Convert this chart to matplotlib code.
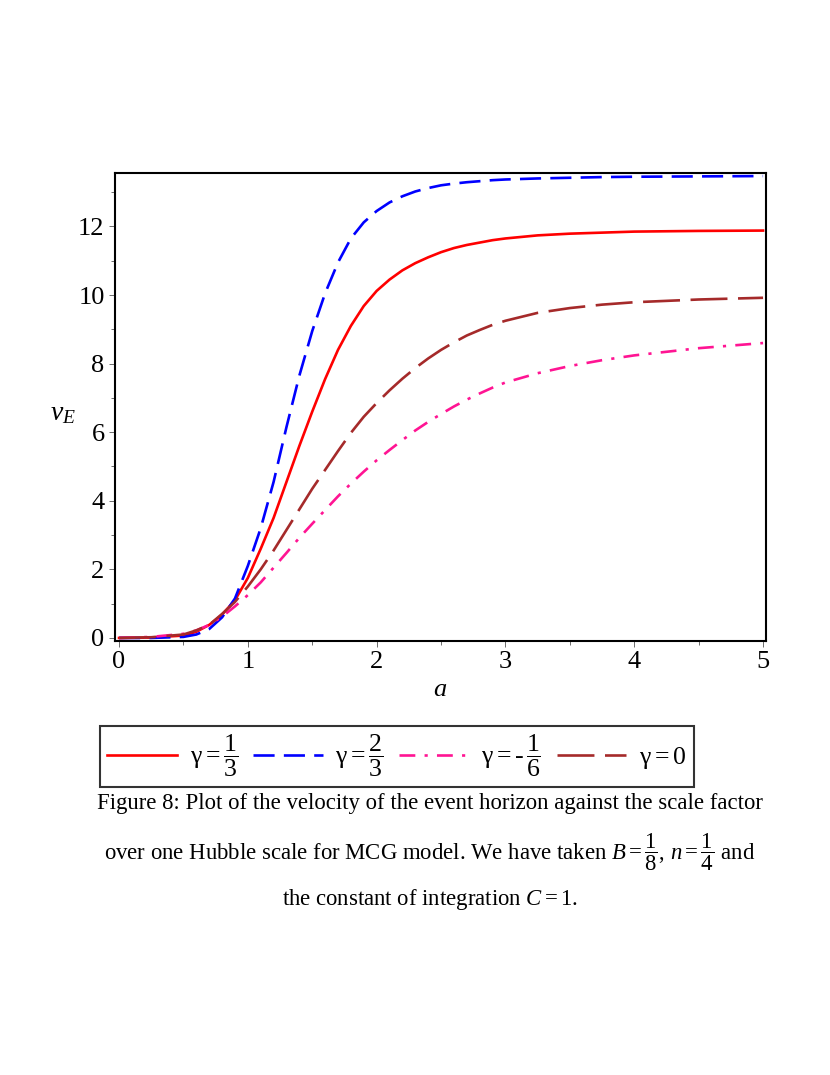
import numpy as np
import matplotlib
matplotlib.use("Agg")
import matplotlib.pyplot as plt

plt.rcParams['font.family'] = ['Liberation Serif', 'DejaVu Serif']
plt.rcParams['mathtext.fontset'] = 'custom'
plt.rcParams['mathtext.rm'] = 'Liberation Serif'
plt.rcParams['mathtext.it'] = 'Liberation Serif:italic'

# values
a = [0, 0.25, 0.5, 0.6, 0.7, 0.8, 0.9, 1.0, 1.1, 1.2, 1.3, 1.4, 1.5, 1.6, 1.7,
     1.8, 1.9, 2.0, 2.1, 2.2, 2.3, 2.4, 2.5, 2.6, 2.7, 2.8, 2.9, 3.0,
     3.25, 3.5, 3.75, 4.0, 4.5, 5.0]
v_third = [0, 0.01, 0.07, 0.18, 0.38, 0.68, 1.1, 1.75, 2.6, 3.5, 4.55, 5.6, 6.6, 7.55, 8.4,
           9.1, 9.68, 10.12, 10.45, 10.72, 10.93, 11.1, 11.25, 11.37, 11.46, 11.53, 11.6, 11.65,
           11.74, 11.79, 11.82, 11.85, 11.87, 11.88]
v_two_third = [0, 0.0, 0.03, 0.1, 0.26, 0.6, 1.15, 2.1, 3.2, 4.55, 6.15, 7.65, 8.95, 10.05, 10.95,
               11.65, 12.12, 12.45, 12.7, 12.88, 13.02, 13.12, 13.2, 13.25, 13.29, 13.32, 13.35, 13.37,
               13.4, 13.42, 13.44, 13.45, 13.46, 13.47]
v_neg_sixth = [0, 0.03, 0.12, 0.22, 0.38, 0.62, 0.92, 1.25, 1.62, 2.05, 2.48, 2.92, 3.33, 3.73, 4.13,
               4.5, 4.85, 5.18, 5.48, 5.77, 6.05, 6.3, 6.53, 6.75, 6.95, 7.13, 7.3, 7.45,
               7.72, 7.93, 8.1, 8.24, 8.45, 8.6]
v_zero = [0, 0.02, 0.1, 0.22, 0.38, 0.7, 1.05, 1.5, 2.0, 2.55, 3.15, 3.75, 4.35, 4.9, 5.45,
          5.98, 6.45, 6.85, 7.22, 7.56, 7.87, 8.15, 8.4, 8.62, 8.82, 8.98, 9.13, 9.25,
          9.48, 9.62, 9.72, 9.79, 9.87, 9.92]

labels = [r'γ$=\dfrac{1}{3}$', r'γ$=\dfrac{2}{3}$', r'γ$=\text{-}\,\dfrac{1}{6}$', r'γ$=0$']

fig = plt.figure(figsize=(8.3, 10.75), dpi=100)
ax = fig.add_axes([0.1386, 0.4037, 0.7843, 0.4354])

lw = 1.9
l1, = ax.plot(a, v_third, color='#ff0000', lw=lw, label=labels[0])
l2, = ax.plot(a, v_two_third, color='#0000ff', lw=lw, dashes=(8, 3.5), label=labels[1])
l3, = ax.plot(a, v_neg_sixth, color='#ff1493', lw=lw, dashes=(6, 3.5, 1.2, 3.5), label=labels[2])
l4, = ax.plot(a, v_zero, color='#a52a2a', lw=lw, dashes=(14, 4), label=labels[3])

ax.set_xlim(-0.031, 5.023)
ax.set_ylim(-0.09, 13.56)
ax.set_xticks([0, 1, 2, 3, 4, 5])
ax.set_xticks(np.arange(0.5, 5, 1), minor=True)
ax.set_yticks([0, 2, 4, 6, 8, 10, 12])
ax.set_yticks(np.arange(1, 14, 2), minor=True)
ax.tick_params(which='both', direction='out', labelsize=19, width=0.6, color='#555555')
ax.tick_params(which='major', length=4)
ax.tick_params(which='minor', length=3)
for s in ax.spines.values():
    s.set_linewidth(1.5)

ax.set_xlabel('$a$', fontsize=19, labelpad=4)
fig.text(0.06, 0.615, r'$v_E$', fontsize=20, ha='left', va='center')

leg = fig.legend(handles=[l1, l2, l3, l4], loc='center', bbox_to_anchor=(0.478, 0.2965),
                 ncol=4, fontsize=18.5, frameon=True, fancybox=False, edgecolor='black',
                 handlelength=2.7, handletextpad=0.5, columnspacing=0.6, borderpad=0.3)
leg.get_frame().set_linewidth(1.5)

cap = [r'Figure 8: Plot of the velocity of the event horizon against the scale factor',
       r'over one Hubble scale for MCG model. We have taken $B=\dfrac{1}{8}$, $n=\dfrac{1}{4}$ and',
       r'the constant of integration $C=1$.']
fig.text(0.518, 0.253, cap[0], fontsize=16.4, ha='center', va='center')
fig.text(0.518, 0.207, cap[1], fontsize=16.4, ha='center', va='center')
fig.text(0.518, 0.163, cap[2], fontsize=16.4, ha='center', va='center')

fig.savefig('out.png', dpi=100)
